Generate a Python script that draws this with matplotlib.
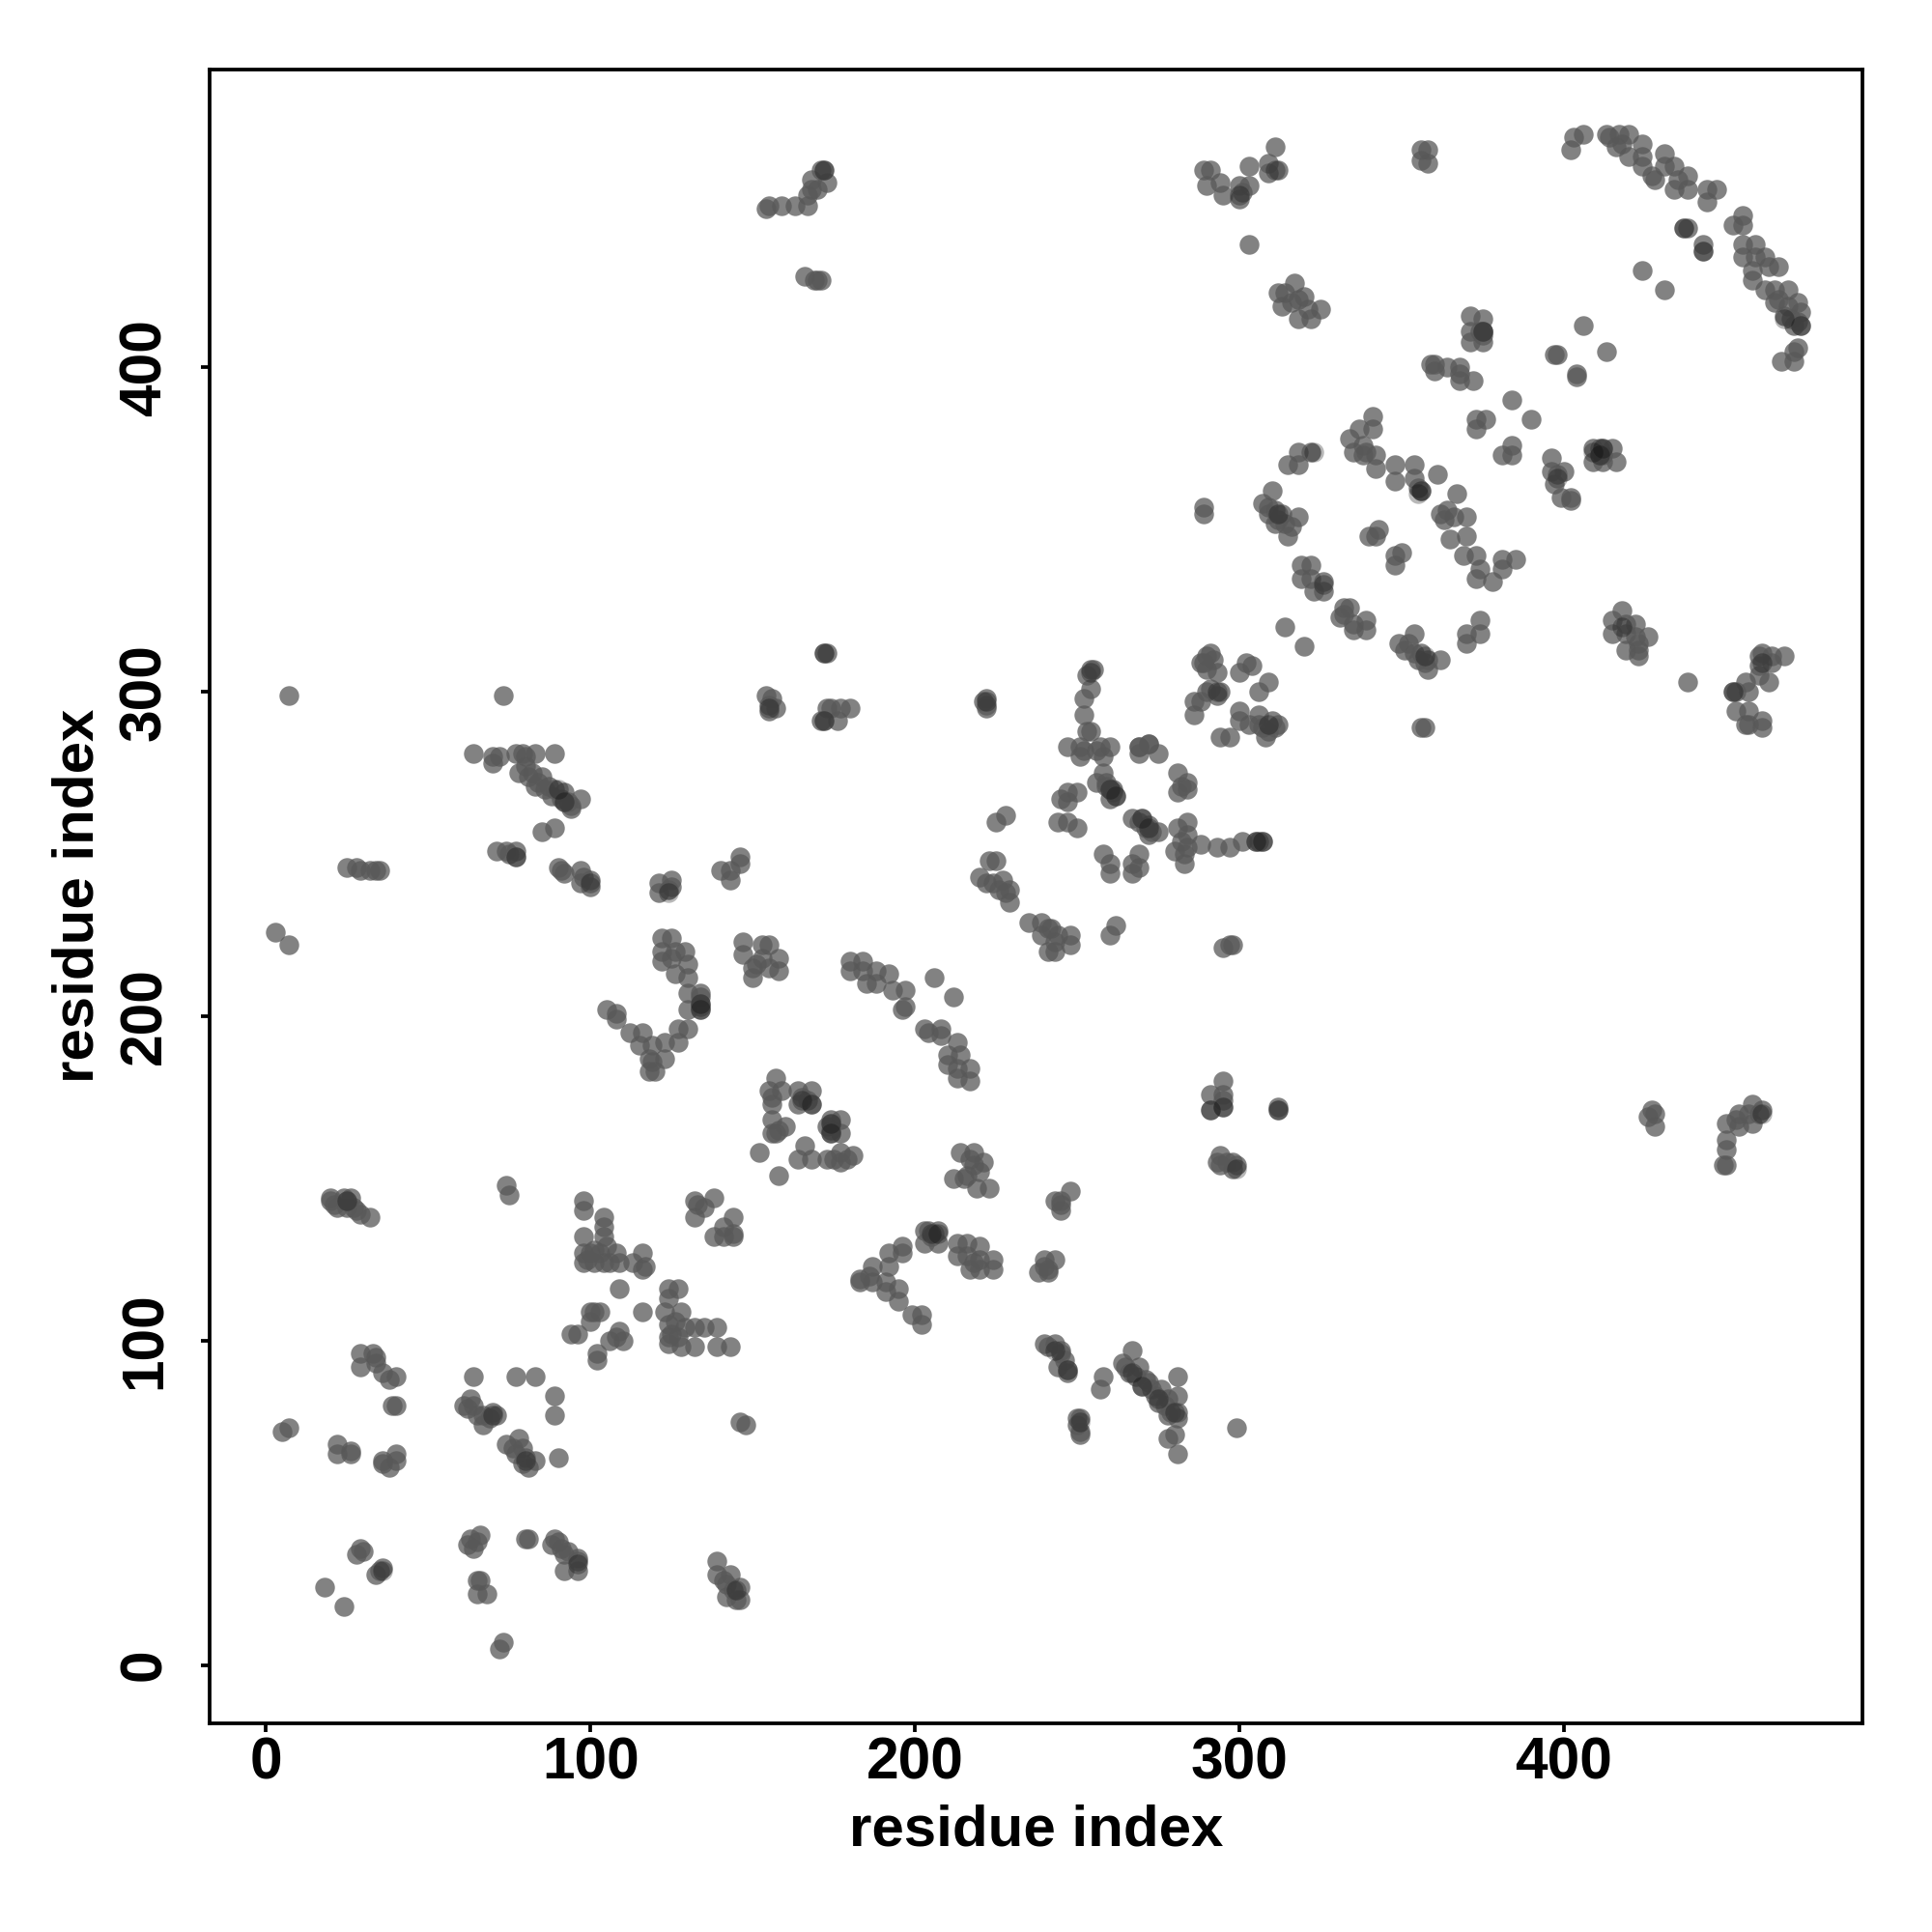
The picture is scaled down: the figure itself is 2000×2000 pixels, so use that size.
import matplotlib
matplotlib.use('Agg')
from matplotlib import pyplot as plt

plt.rcParams['font.family'] = ['Liberation Sans', 'DejaVu Sans']

# contacts as (residue i, residue j), grouped by region
low_left = [(20,144),(20,143),(21,142),(22,141),(24,144),(25,143),(25,141),(26,144),(27,141),(28,140),(29,139),(32,138),
            (29,96),(29,92),(33,96),(34,95),(34,93),(36,90),(38,88),(40,89),(39,80),(40,80),
            (5,72),(7,73),(22,68),(22,65),(26,65),(26,66),(36,63),(40,65),(40,63),(38,61),(36,62),
            (29,36),(28,34),(30,35),(36,30),(34,28),(35,29),(18,24),(24,18)]
low_mid = [(64,89),(77,89),(83,89),(89,83),(89,77),
           (63,82),(61,80),(64,80),(62,79),(65,77),(67,74),(71,77),(70,78),(67,77),(69,76),
           (78,70),(74,68),(77,65),(80,64),(81,61),(83,63),(90,64),(76,67),(79,67),(79,62),
           (74,148),(75,145),(146,75),(148,74),
           (63,39),(66,40),(62,37),(64,36),(65,38),(65,26),(66,26),(65,22),(68,22),
           (80,39),(81,39),(89,39),(88,37),(91,36),(92,29),(92,34),(96,33),(96,32),(96,29),(90,38),(93,35),
           (73,7),(72,5),(139,32),(139,28),(143,28),(142,25),(146,24),(142,21),(146,20),(145,20),(144,23),(141,26)]
diag_100 = [(98,143),(98,140),(104,138),(104,135),(98,132),(98,127),(98,124),(100,127),(101,124),(103,127),(104,132),
            (104,124),(106,124),(108,127),(109,124),(113,124),(116,127),(117,123),(116,122),(101,128),(99,125),(105,129),
            (132,143),(138,144),(132,138),(135,141),(133,142),(144,138),(141,135),(138,132),(144,132),(141,132),(144,133),
            (109,116),(116,109),(124,116),(127,116),(124,113),(123,109),(128,109),(124,105),(124,99),(132,104),(135,104),
            (139,104),(128,98),(132,98),(139,98),(143,98),(125,102),(127,101),(124,101),(129,104),(126,106),
            (100,109),(103,109),(100,106),(101,109),(94,102),(96,102),(109,103),(110,100),(106,100),(108,101),(102,96),(102,94)]
upper_left = [(7,299),(73,299),(64,281),(70,280),(70,278),(72,280),(77,281),(79,281),(83,281),(89,281),(78,275),(80,277),
              (82,275),(85,274),(83,271),(87,271),(89,270),(88,268),(92,269),(93,266),(94,264),(97,267),(80,280),(81,274),
              (84,272),(86,270),(91,267),(92,266),(94,265),(85,257),(89,258),(25,246),(29,245),(28,246),(32,245),(34,245),(35,245),
              (71,251),(74,251),(77,249),(77,251),(75,250),(90,246),(92,244),(91,245),(97,245),(97,241),(98,243),(100,242),(100,240),
              (121,241),(121,238),(125,242),(125,240),(124,239),(140,245),(143,245),(143,242),(146,249),(146,247),(3,226),(7,222)]
v_shape = [(122,224),(125,224),(122,220),(126,220),(122,217),(129,220),(126,213),(130,216),(130,212),(125,218),
           (130,207),(134,207),(134,204),(130,202),(134,202),(134,206),(134,203),
           (105,202),(108,201),(108,199),(112,195),(116,195),(115,191),(119,191),(123,192),(127,192),(127,196),(130,196),
           (118,187),(123,187),(118,183),(120,183),(119,186),
           (147,223),(147,219),(153,222),(155,222),(150,215),(150,212),(158,218),(158,214),(153,218),(151,216),(155,215)]
triangle = [(157,181),(155,177),(159,177),(156,173),(156,175),(164,177),(164,173),(168,177),(168,173),(165,175),(167,174),
            (174,168),(174,164),(177,168),(177,164),(173,166),(174,167),(174,165),
            (156,168),(157,164),(160,166),(156,164),(158,165),
            (152,158),(166,160),(164,156),(168,156),(173,156),(177,158),(177,155),(181,157),(179,156),(175,156),(158,151)]
strand_200 = [(180,217),(184,217),(180,214),(184,214),(185,210),(188,214),(188,210),(192,213),(193,208),(197,208),(196,202),(197,203),
              (203,196),(204,195),(208,196),(208,194),(213,192),(210,188),(214,188),(210,185),(213,184),(217,184),(213,181),(217,180),
              (206,212),(212,206)]
block_220 = [(214,158),(218,158),(221,155),(218,154),(212,150),(215,150),(219,147),(223,147),(220,152),(217,156),(216,151),
             (248,146),(243,143),(245,143),(245,140),(245,142),
             (196,129),(196,127),(192,127),(192,123),(187,123),(183,119),(183,118),(187,118),(191,118),(191,115),(195,116),(195,112),(186,120),(199,108),(202,108),(202,105),
             (203,134),(207,134),(203,130),(207,130),(204,134),(206,133),(205,132),
             (213,130),(216,130),(213,126),(220,129),(216,126),(220,125),(217,122),(220,122),(224,125),(224,122),(218,124),
             (240,125),(243,125),(238,121),(241,122),(240,123),(241,121)]
lower_right = [(240,99),(243,99),(245,97),(241,98),(244,92),(247,91),(247,90),(245,96),(246,94),
               (258,89),(257,85),(267,97),(264,93),(269,92),(266,90),(271,88),(270,86),(273,85),(276,85),(275,81),(278,82),
               (281,89),(281,83),(281,78),(278,77),(280,71),(278,70),(281,76),(281,65),(265,92),(268,89),(272,87),(274,83),(277,80),(279,78),
               (250,76),(251,76),(251,72),(250,74),(251,71),(299,73),
               (295,180),(295,176),(291,176),(295,172),(291,171),(295,174),(312,172),(312,171),
               (294,157),(294,154),(298,155),(299,154),(298,153),(296,155),(293,155),
               (427,171),(426,169),(428,170),(428,166),(450,167),(450,162),(450,159),(449,154),(450,154),(454,170),(454,166),(458,173),
               (458,167),(457,170),(461,171),(460,170),(453,168)]
middle_300 = [(172,312),(173,312),(154,299),(156,298),(155,296),(157,295),(155,294),
              (173,295),(177,295),(180,295),(171,291),(176,291),(172,291),(174,295),
              (222,298),(222,295),(221,297),(222,296),
              (254,307),(255,307),(253,305),(254,301),(252,298),(252,293),(253,288),(254,288),(247,283),(251,283),(251,280),(257,283),(260,283),
              (258,280),(258,275),(256,272),(259,272),(261,270),(262,268),(260,267),(252,282),(256,282),(259,271),(260,270),(261,269),
              (269,283),(272,284),(275,281),(269,281),(281,275),(284,272),(281,269),(282,271),(284,270),
              (245,267),(247,269),(247,266),(250,269),(244,260),(247,260),(250,258),(228,262),(225,260),
              (267,261),(270,261),(269,260),(272,259),(272,256),(275,257),(271,258),(273,257),
              (284,260),(281,258),(284,256),(288,253),(280,251),(283,250),(283,247),(282,254),(284,252),(293,252),(297,252),(301,254),(305,254),(307,254),(306,254),
              (258,250),(260,247),(260,244),(269,250),(267,247),(269,246),(267,244),
              (225,248),(223,248),(220,243),(227,242),(229,239),(229,235),(224,241),(226,239),(222,241),(228,238),
              (235,229),(239,229),(242,227),(239,225),(241,220),(243,220),(248,225),(248,222),(244,225),(241,227),(243,223),(262,228),(260,225),
              (295,221),(297,222),(298,222)]
block_300 = [(290,311),(288,309),(292,310),(290,307),(293,306),(291,312),(289,309),(290,300),(294,300),(293,299),(291,301),
             (302,309),(300,306),(309,303),(306,300),(304,308),(286,297),(286,293),(288,297),
             (300,294),(300,291),(306,293),(294,286),(297,286),(303,290),(307,289),(308,286),(310,291),(312,290),(309,288),(306,290),(311,289),
             (356,289),(357,289),(269,283),(272,284)]
block_350 = [(341,385),(341,381),(337,381),(334,378),(338,376),(335,374),(338,373),(342,373),(342,369),(348,370),(348,365),(354,370),
             (354,366),(355,363),(356,362),(361,367),(367,361),(362,355),(363,353),(366,354),(370,354),(365,347),(370,348),(369,342),
             (373,342),(374,338),(373,335),(378,334),(381,338),(381,341),(385,341),(364,356),(339,374),
             (318,374),(322,374),(315,370),(318,370),(310,362),(307,358),(311,356),(309,355),(313,355),(311,352),(318,354),(316,351),(315,348),
             (309,357),(312,353),(314,352),(289,357),(289,355),
             (343,350),(340,348),(342,348),(350,343),(348,342),(348,339),(319,339),(322,339),(319,335),(322,335),(326,334),(326,331),(323,331),
             (332,326),(334,326),(331,323),(335,321),(339,322),(335,319),(339,319),(332,324),
             (349,315),(354,318),(352,315),(354,312),(356,312),(358,310),(358,307),(362,310),(351,313),(355,310),(357,309),
             (374,322),(374,318),(370,318),(370,315),(314,320),(320,314)]
right_370 = [(384,390),(390,384),(373,384),(376,384),(373,381),(384,376),(381,373),(384,373),
             (396,372),(396,368),(400,368),(397,364),(402,360),(399,360),(402,359),(398,367),
             (409,375),(411,375),(412,375),(415,375),(409,371),(412,371),(416,371),(411,373),(412,373),
             (371,416),(375,415),(371,411),(375,411),(375,408),(371,408),(375,411),(375,410),(374,411),
             (360,401),(359,401),(360,399),(364,400),(368,400),(368,396),(372,396),(368,398),
             (406,413),(413,405),(398,404),(397,404),(404,397),(404,398),
             (418,325),(415,322),(419,321),(422,321),(415,318),(422,317),(426,317),(419,313),(423,313),(423,311),(419,318),(423,315),
             (438,303),(461,312),(460,311),(464,311),(468,311),(460,308),(464,309),(460,305),(463,303),(456,303),(452,300),(453,300),(457,300),
             (453,294),(457,294),(456,290),(461,291),(461,289),(457,290)]
top_left = [(154,449),(155,450),(159,450),(163,450),(167,450),(167,453),(168,458),(171,461),(172,461),(173,457),(170,455),(168,455),
            (166,428),(170,427),(171,427),(169,427),
            (289,461),(291,461),(290,456),(294,457),(295,453),(300,456),(300,452),(303,456),(303,462),(309,463),(311,468),(309,460),(312,461),(301,454),
            (356,467),(358,467),(356,464),(358,463),(303,438),
            (317,426),(312,423),(314,423),(320,422),(313,419),(318,415),(322,415),(325,418),(316,420),(321,418),(318,421)]
top_right = [(402,467),(403,471),(406,472),(413,472),(417,472),(420,472),(416,468),(420,465),(424,469),(424,465),(424,462),(431,466),
             (431,462),(428,458),(434,462),(438,459),(434,455),(438,455),(414,471),(418,469),(427,459),(435,458),
             (444,455),(447,455),(444,451),(437,443),(438,443),(455,447),(452,444),(455,444),(443,438),(443,436),
             (455,438),(459,438),(455,434),(462,434),(459,434),(466,431),(458,430),(458,427),(463,431),(462,424),(465,424),(469,424),
             (465,420),(472,420),(468,416),(473,417),(473,413),(469,419),(471,413),(466,421),(470,415),(472,414),
             (424,430),(431,424),(472,406),(471,405),(467,402),(471,402)]
# spots that read much darker than their neighbours
dark_spots = [(25,143),(70,77),(80,63),(90,270),(92,266),(77,249),(100,241),(124,238),(134,204),(134,202),(165,174),(168,173),
              (174,167),(174,164),(205,133),(207,133),(243,97),(247,91),(267,90),(270,86),(275,82),(280,78),(251,75),(254,306),
              (260,270),(262,268),(270,261),(272,258),(305,254),(307,254),(295,172),(299,153),(293,300),(309,290),(312,355),
              (356,362),(357,311),(326,333),(375,411),(412,375),(409,374),(411,373),(461,309),(452,300),(473,413),(468,415),
              (437,443),(443,436),(300,453),(311,461),(172,461),(323,374),(145,23),(96,31),(36,29),(222,297),(172,312),(172,291),
              (155,295),(312,171),(291,171),(461,170),(418,320),(398,366),(355,361)]

regions = [low_left, low_mid, diag_100, upper_left, v_shape, triangle, strand_200, block_220,
           lower_right, middle_300, block_300, block_350, right_370, top_left, top_right]

fig = plt.figure(figsize=(10, 10), dpi=200)
ax = fig.add_axes([216.5/2000, 216/2000, 1711.5/2000, 1712.5/2000])

for pts in regions:
    ax.scatter([p[0] for p in pts], [p[1] for p in pts], s=54, color='#585858', alpha=0.75, linewidths=0, zorder=3)
ax.scatter([p[0] for p in dark_spots], [p[1] for p in dark_spots], s=54, color='#000000', alpha=0.28, linewidths=0, zorder=3)

ax.set_xlim(-17.5, 492)
ax.set_ylim(-18, 492)
ax.set_xticks([0, 100, 200, 300, 400])
ax.set_yticks([0, 100, 200, 300, 400])
for s in ax.spines.values():
    s.set_linewidth(1.35)
ax.tick_params(axis='both', length=3.3, width=1.35)
ax.tick_params(axis='x', pad=1.6, labelsize=21.8)
ax.tick_params(axis='y', pad=10, labelsize=21.8)
for t in ax.get_xticklabels() + ax.get_yticklabels():
    t.set_fontweight('bold')
for t in ax.get_yticklabels():
    t.set_rotation(90)
    t.set_va('center')

fig.text(1073/2000, 1-1895/2000, 'residue index', fontsize=21.6, fontweight='bold', ha='center', va='center')
fig.text(81/2000, 1-927/2000, 'residue index', fontsize=21.6, fontweight='bold', ha='center', va='center', rotation=90)

plt.savefig('out.png', dpi=200)
